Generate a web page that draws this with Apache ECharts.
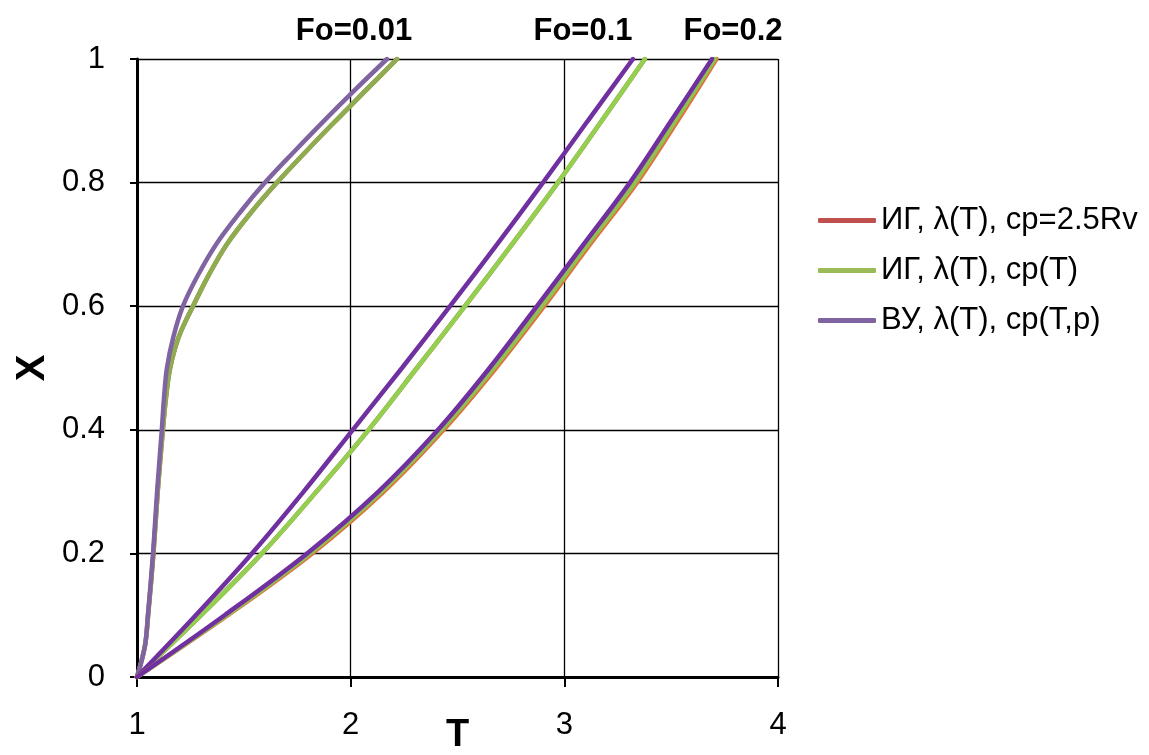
<!DOCTYPE html>
<html>
<head>
<meta charset="utf-8">
<script src="https://cdn.jsdelivr.net/npm/echarts@6/dist/echarts.min.js"></script>
<style>
  html, body { margin: 0; padding: 0; background: #fff; }
  #chart { width: 1149px; height: 755px; }
</style>
</head>
<body>
<div id="chart"></div>
<script>
// Temperature T (x axis) reached at position X (y axis) for three Fourier numbers.
const FONT = 'Liberation Sans';

// X positions where T is tabulated
const xFine = [0, 0.05, 0.1, 0.2, 0.3, 0.4, 0.45, 0.5, 0.55, 0.6, 0.65, 0.7, 0.75, 0.8, 0.85, 0.9, 0.95, 1.0];
const xCoarse = [0, 0.1, 0.2, 0.3, 0.4, 0.5, 0.6, 0.7, 0.8, 0.9, 1.0];

// Fo = 0.01 (on xFine)
const fo001_ig_const = [1.0, 1.037, 1.052, 1.077, 1.097, 1.121, 1.135, 1.155, 1.195, 1.262, 1.335, 1.42, 1.53, 1.655, 1.79, 1.93, 2.073, 2.217];
const fo001_ig_cpT   = [1.0, 1.037, 1.052, 1.077, 1.097, 1.121, 1.135, 1.155, 1.195, 1.262, 1.335, 1.42, 1.53, 1.655, 1.79, 1.93, 2.073, 2.217];
const fo001_vu       = [1.0, 1.037, 1.051, 1.075, 1.094, 1.116, 1.126, 1.14, 1.17, 1.215, 1.285, 1.37, 1.478, 1.599, 1.735, 1.875, 2.02, 2.170];

// Fo = 0.1 (on xCoarse)
const fo01_ig_const = [1.0, 1.30, 1.585, 1.84, 2.084, 2.31, 2.535, 2.755, 2.97, 3.175, 3.377];
const fo01_ig_cpT   = [1.0, 1.30, 1.585, 1.84, 2.084, 2.31, 2.535, 2.755, 2.97, 3.175, 3.377];
const fo01_vu       = [1.0, 1.275, 1.538, 1.78, 2.01, 2.24, 2.465, 2.685, 2.90, 3.11, 3.321];

// Fo = 0.2 (on xCoarse)
const fo02_ig_const = [1.0, 1.425, 1.82, 2.155, 2.435, 2.68, 2.905, 3.12, 3.34, 3.53, 3.712];
const fo02_ig_cpT   = [1.0, 1.42, 1.81, 2.145, 2.425, 2.67, 2.895, 3.11, 3.33, 3.52, 3.705];
const fo02_vu       = [1.0, 1.41, 1.796, 2.13, 2.409, 2.65, 2.872, 3.09, 3.307, 3.50, 3.691];

const seriesNames = ['ИГ, λ(T), cp=2.5Rv', 'ИГ, λ(T), cp(T)', 'ВУ, λ(T), cp(T,p)'];
const foLabels = ['Fo=0.01', 'Fo=0.1', 'Fo=0.2'];
const xTicks = [1, 2, 3, 4];

function pairs(ts, xs) { return ts.map((t, i) => [t, xs[i]]); }

function curve(name, ts, xs, color) {
  return {
    type: 'line', name: name, data: pairs(ts, xs),
    showSymbol: false, smooth: 0.35, silent: true,
    lineStyle: { color: color, width: 4.5, cap: 'round' },
    itemStyle: { color: color },
    z: 3
  };
}

const series = [
  curve(seriesNames[0], fo001_ig_const, xFine, '#C0504D'),
  curve(seriesNames[1], fo001_ig_cpT, xFine, '#8DAE4E'),
  curve(seriesNames[2], fo001_vu, xFine, '#8064A2'),
  curve(seriesNames[0], fo01_ig_const, xCoarse, '#C0504D'),
  curve(seriesNames[1], fo01_ig_cpT, xCoarse, '#92D050'),
  curve(seriesNames[2], fo01_vu, xCoarse, '#7030A0'),
  curve(seriesNames[0], fo02_ig_const, xCoarse, '#E0703A'),
  curve(seriesNames[1], fo02_ig_cpT, xCoarse, '#92C050'),
  curve(seriesNames[2], fo02_vu, xCoarse, '#7030A0')
];

function foText(label, x) {
  return {
    type: 'text', x: x, y: 31,
    style: { text: label, font: 'bold 31px "Liberation Sans"', fill: '#000', textAlign: 'center', textVerticalAlign: 'middle' }
  };
}

const chart = echarts.init(document.getElementById('chart'), null, { renderer: 'canvas' });
chart.setOption({
  animation: false,
  backgroundColor: '#fff',
  grid: { left: 137, right: 371, top: 59, bottom: 78, containLabel: false, outerBoundsMode: 'none' },
  xAxis: {
    type: 'value', min: xTicks[0], max: xTicks[xTicks.length - 1], interval: 1,
    name: 'T', nameLocation: 'middle', nameGap: 40, nameMoveOverlap: false,
    nameTextStyle: { fontFamily: FONT, fontSize: 38, fontWeight: 'bold', color: '#000' },
    axisLine: { show: true, onZero: false, lineStyle: { color: '#000', width: 3 } },
    axisTick: { show: true, length: 10, lineStyle: { color: '#000', width: 2 } },
    axisLabel: { fontFamily: FONT, fontSize: 31, color: '#000', margin: 33 },
    splitLine: { show: true, lineStyle: { color: '#000', width: 1.3 } }
  },
  yAxis: {
    type: 'value', min: 0, max: 1, interval: 0.2,
    name: 'X', nameLocation: 'middle', nameGap: 84, nameRotate: 90, nameMoveOverlap: false,
    nameTextStyle: { fontFamily: FONT, fontSize: 40, fontWeight: 'bold', color: '#000' },
    axisLine: { show: true, onZero: false, lineStyle: { color: '#000', width: 3 } },
    axisTick: { show: true, length: 7, lineStyle: { color: '#000', width: 2 } },
    axisLabel: { fontFamily: FONT, fontSize: 31, color: '#000', margin: 32 },
    splitLine: { show: true, lineStyle: { color: '#000', width: 1.3 } }
  },
  legend: {
    orient: 'vertical', left: 813, top: 199,
    itemWidth: 58, itemHeight: 5, itemGap: 17,
    icon: 'roundRect',
    data: [
      { name: seriesNames[0], itemStyle: { color: '#C0504D' } },
      { name: seriesNames[1], itemStyle: { color: '#9BBB59' } },
      { name: seriesNames[2], itemStyle: { color: '#8064A2' } }
    ],
    textStyle: { fontFamily: FONT, fontSize: 31, color: '#000', lineHeight: 33 },
    selectedMode: false
  },
  graphic: [
    foText(foLabels[0], 354),
    foText(foLabels[1], 583),
    foText(foLabels[2], 733)
  ],
  series: series
});
</script>
</body>
</html>
